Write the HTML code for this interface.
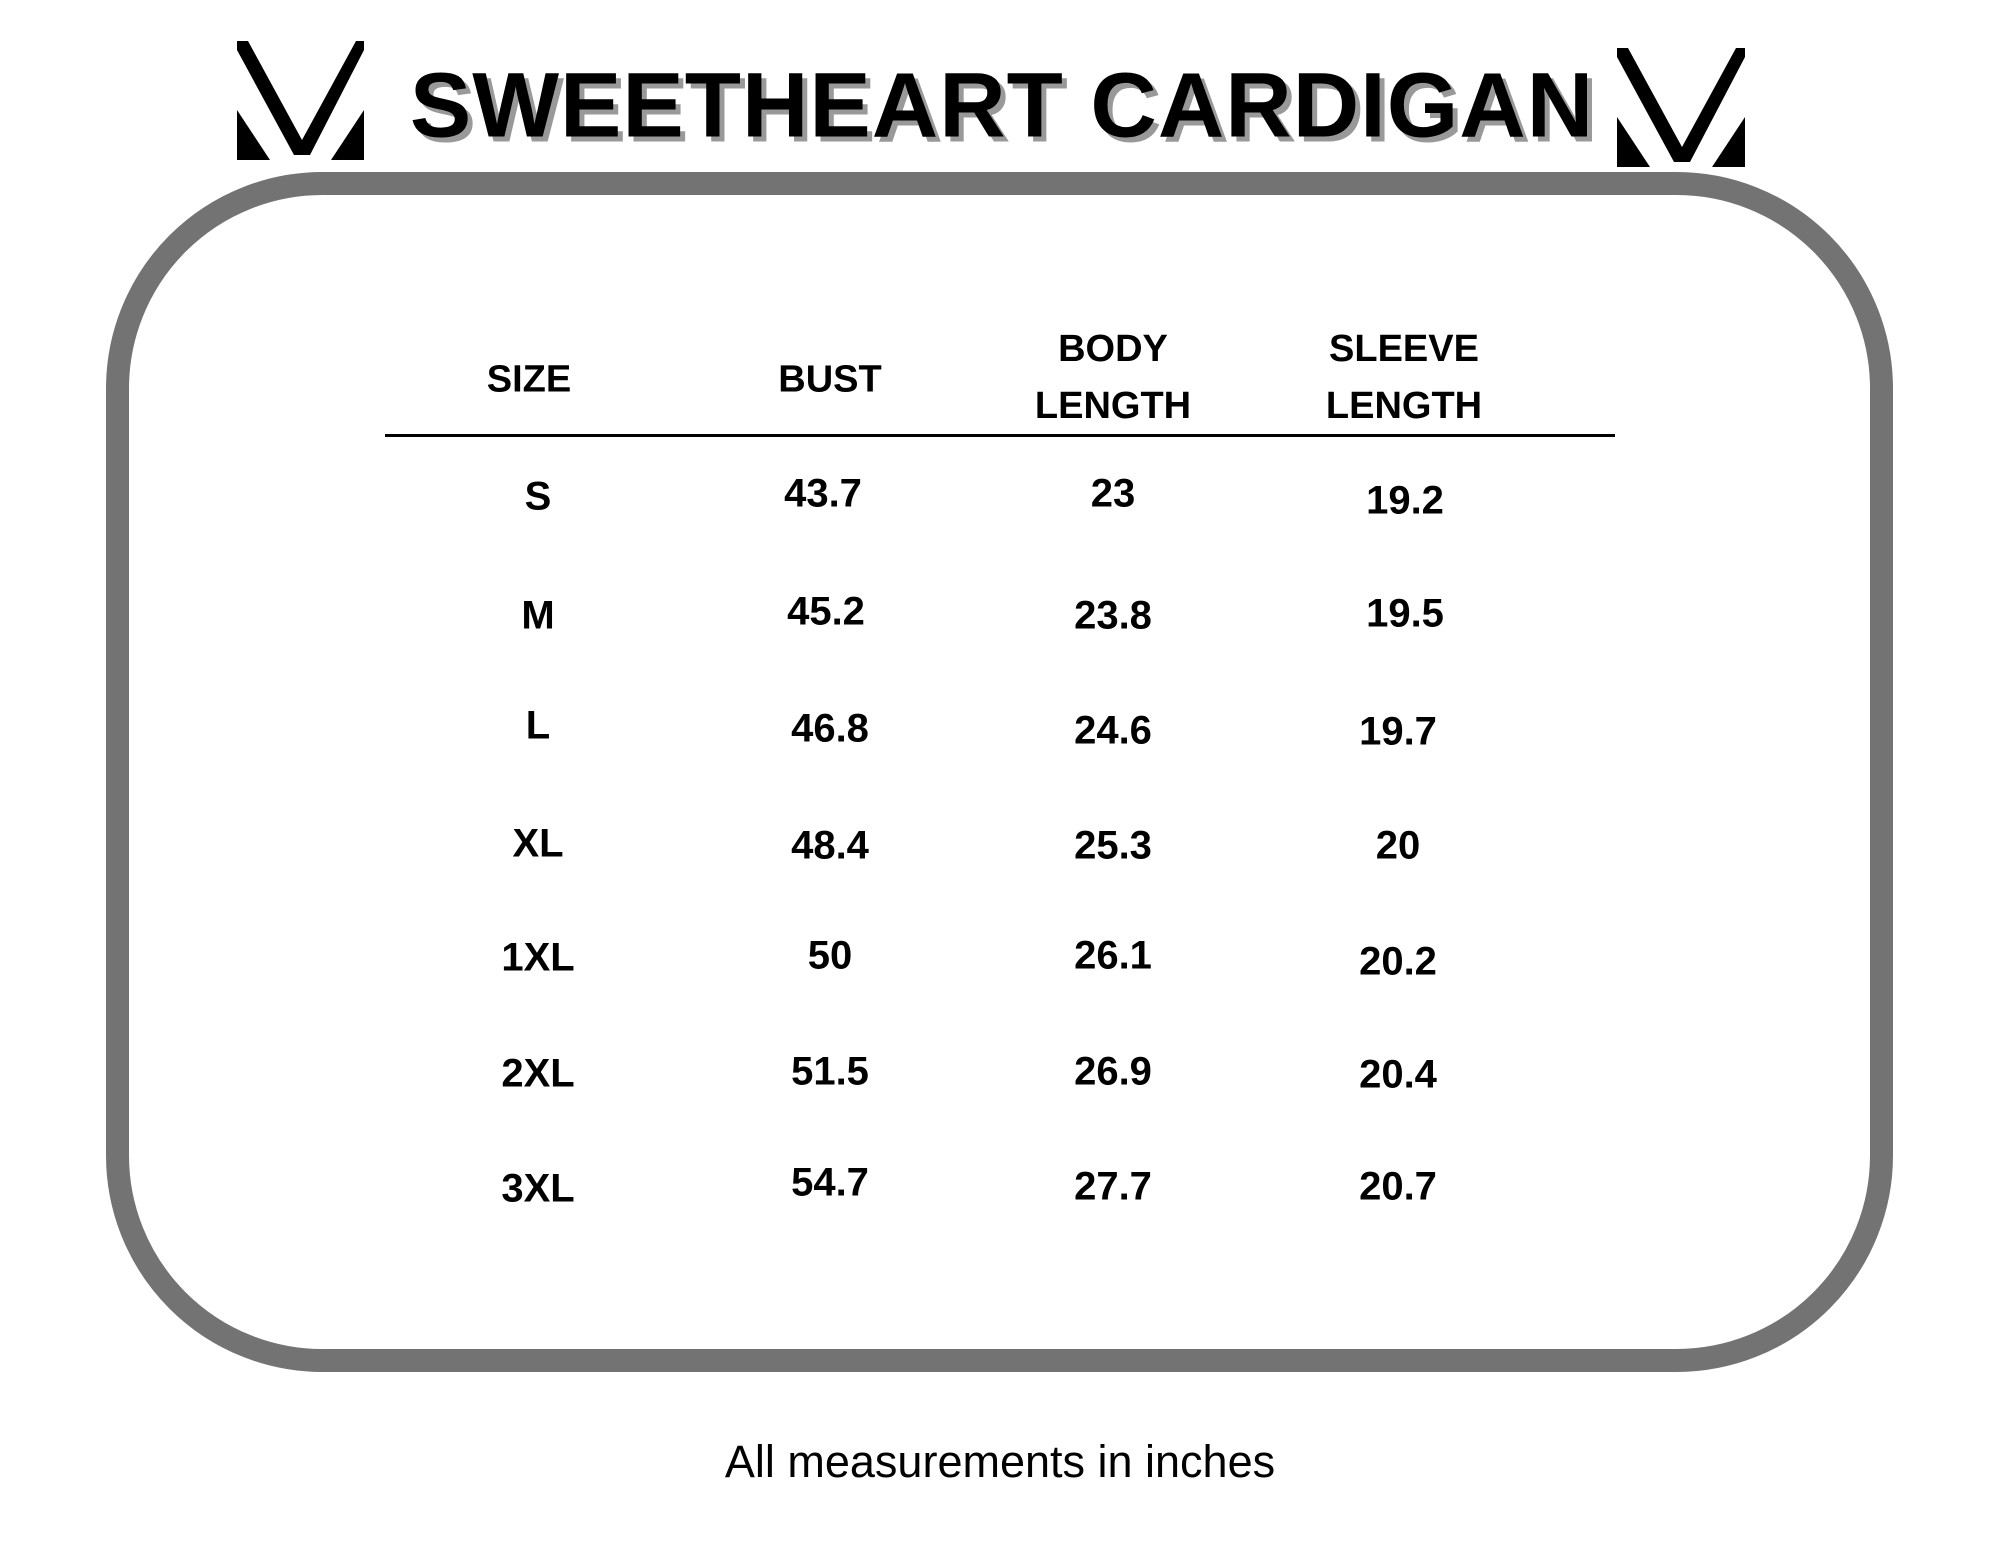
<!DOCTYPE html>
<html><head><style>
body{margin:0;width:2000px;height:1545px;background:#fff;position:relative;overflow:hidden;font-family:"Liberation Sans",sans-serif;color:#000}
.t{position:absolute;transform:translate(-50%,-50%);white-space:nowrap}
.h{font-weight:bold;font-size:38px;text-align:center;line-height:57px}
.d{font-weight:bold;font-size:40px}
</style></head><body>
<svg width="2000" height="1545" style="position:absolute;left:0;top:0">
<rect x="117.5" y="183.5" width="1764" height="1177" rx="205" fill="none" stroke="#737373" stroke-width="23"/>
<line x1="385" y1="435.5" x2="1615" y2="435.5" stroke="#000" stroke-width="3"/>
<g fill="#000">
<polygon points="237,41 248,41 302,140 356,41 364,41 364,50 310,155 294,155 237,50"/>
<polygon points="237,110 270,160 237,160"/>
<polygon points="364,110 331,160 364,160"/>
<polygon points="1617,48 1628,48 1682,147 1736,48 1745,48 1745,57 1690,162 1674,162 1617,57"/>
<polygon points="1617,117 1650,167 1617,167"/>
<polygon points="1745,117 1712,167 1745,167"/>
</g>
</svg>
<div class="t" style="left:1002px;top:106px;font-weight:bold;font-size:92px;letter-spacing:1px;color:#000;text-shadow:5px 5px 0 #999">SWEETHEART CARDIGAN</div>
<div class="t h" style="left:529px;top:380px">SIZE</div>
<div class="t h" style="left:830px;top:380px">BUST</div>
<div class="t h" style="left:1113px;top:378px">BODY<br>LENGTH</div>
<div class="t h" style="left:1404px;top:378px">SLEEVE<br>LENGTH</div>

<div class="t d" style="left:538px;top:497px">S</div>
<div class="t d" style="left:538px;top:616px">M</div>
<div class="t d" style="left:538px;top:726px">L</div>
<div class="t d" style="left:538px;top:844px">XL</div>
<div class="t d" style="left:538px;top:958px">1XL</div>
<div class="t d" style="left:538px;top:1074px">2XL</div>
<div class="t d" style="left:538px;top:1189px">3XL</div>

<div class="t d" style="left:823px;top:494px">43.7</div>
<div class="t d" style="left:826px;top:612px">45.2</div>
<div class="t d" style="left:830px;top:729px">46.8</div>
<div class="t d" style="left:830px;top:846px">48.4</div>
<div class="t d" style="left:830px;top:956px">50</div>
<div class="t d" style="left:830px;top:1072px">51.5</div>
<div class="t d" style="left:830px;top:1183px">54.7</div>

<div class="t d" style="left:1113px;top:494px">23</div>
<div class="t d" style="left:1113px;top:616px">23.8</div>
<div class="t d" style="left:1113px;top:731px">24.6</div>
<div class="t d" style="left:1113px;top:846px">25.3</div>
<div class="t d" style="left:1113px;top:956px">26.1</div>
<div class="t d" style="left:1113px;top:1072px">26.9</div>
<div class="t d" style="left:1113px;top:1187px">27.7</div>

<div class="t d" style="left:1405px;top:501px">19.2</div>
<div class="t d" style="left:1405px;top:614px">19.5</div>
<div class="t d" style="left:1398px;top:732px">19.7</div>
<div class="t d" style="left:1398px;top:846px">20</div>
<div class="t d" style="left:1398px;top:962px">20.2</div>
<div class="t d" style="left:1398px;top:1075px">20.4</div>
<div class="t d" style="left:1398px;top:1187px">20.7</div>

<div class="t" style="left:1000px;top:1462px;font-size:45px">All measurements in inches</div>
</body></html>
